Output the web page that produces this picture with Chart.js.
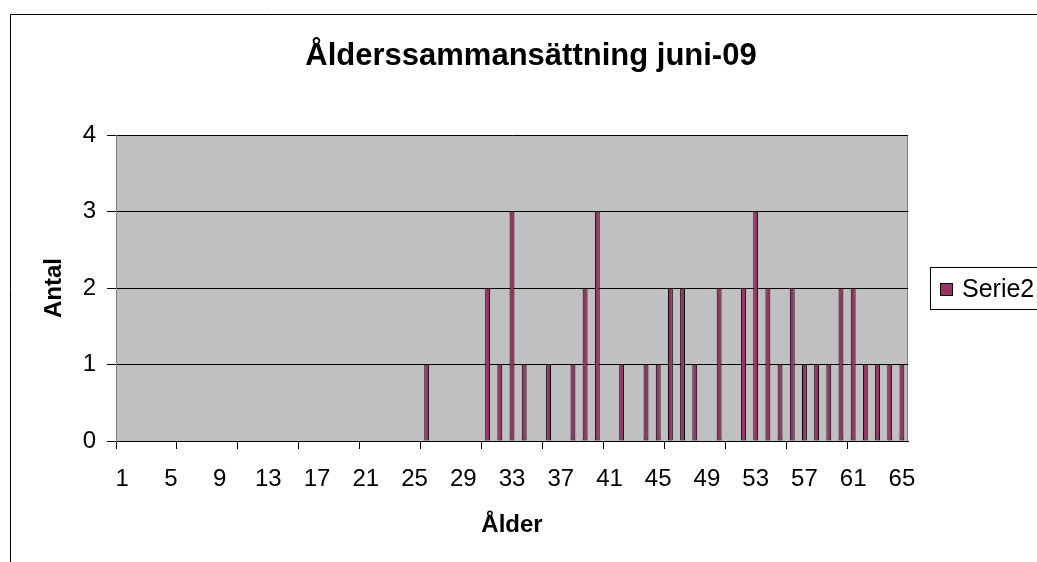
<!DOCTYPE html>
<html>
<head>
<meta charset="utf-8">
<script src="https://cdn.jsdelivr.net/npm/chart.js@4.4.0/dist/chart.umd.min.js"></script>
<style>
  html, body { margin: 0; padding: 0; background: #fff; }
  canvas { display: block; }
</style>
</head>
<body>
<canvas id="myChart" width="1037" height="562"></canvas>
<script>
// Ålder (kategorier)
var ages = ['1','2','3','4','5','6','7','8','9','10','11','12','13','14','15','16','17','18','19','20',
            '21','22','23','24','25','26','27','28','29','30','31','32','33','34','35','36','37','38','39','40',
            '41','42','43','44','45','46','47','48','49','50','51','52','53','54','55','56','57','58','59','60',
            '61','62','63','64','65'];
// Antal per ålder
var antal = [0,0,0,0,0,0,0,0,0,0,0,0,0,0,0,0,0,0,0,0,
             0,0,0,0,0,1,0,0,0,0,2,1,3,1,0,1,0,1,2,3,
             0,1,0,1,1,2,2,1,0,2,0,2,3,2,1,2,1,1,1,2,
             2,1,1,1,1];
// etiketter som visas på x-axeln
var xTickLabels = ['1','5','9','13','17','21','25','29','33','37','41','45','49','53','57','61','65'];
var yTicks = [0, 1, 2, 3, 4];

var chartTitle = 'Ålderssammansättning juni-09';
var fam = '"Liberation Sans", Arial, Helvetica, sans-serif';

var backgroundPlugin = {
    id: 'excelBg',
    beforeDraw: function(chart){
        var ctx = chart.ctx, a = chart.chartArea;
        ctx.save();
        ctx.fillStyle = '#fff';
        ctx.fillRect(0, 0, chart.width, chart.height);
        // yttre ram
        ctx.strokeStyle = '#000';
        ctx.lineWidth = 1;
        ctx.beginPath();
        ctx.moveTo(10.5, chart.height + 5);
        ctx.lineTo(10.5, 14.5);
        ctx.lineTo(chart.width + 5, 14.5);
        ctx.stroke();
        // diagramyta
        ctx.fillStyle = '#c0c0c0';
        ctx.fillRect(a.left, a.top, a.right - a.left, a.bottom - a.top);
        ctx.strokeStyle = '#808080';
        ctx.beginPath();
        ctx.moveTo(Math.round(a.right) - 0.5, a.top);
        ctx.lineTo(Math.round(a.right) - 0.5, a.bottom);
        ctx.stroke();
        ctx.restore();
    },
    afterDraw: function(chart){
        var ctx = chart.ctx;
        ctx.save();
        // rubrik
        ctx.fillStyle = '#000';
        ctx.font = 'bold 31px ' + fam;
        ctx.textAlign = 'center';
        ctx.textBaseline = 'alphabetic';
        ctx.fillText(chartTitle, 531, 65);
        // förklaring
        var ds = chart.data.datasets[0];
        ctx.fillStyle = '#fff';
        ctx.fillRect(930, 267, 120, 42);
        ctx.strokeStyle = '#000';
        ctx.lineWidth = 1;
        ctx.strokeRect(930.5, 267.5, 120, 42);
        ctx.fillStyle = ds.backgroundColor;
        ctx.fillRect(940, 283, 13, 13);
        ctx.strokeRect(940.5, 283.5, 12, 12);
        ctx.fillStyle = '#000';
        ctx.font = '25px ' + fam;
        ctx.textAlign = 'left';
        ctx.fillText(ds.label, 962, 297);
        ctx.restore();
    }
};

var ctx = document.getElementById('myChart').getContext('2d');
var myChart = new Chart(ctx, {
    type: 'bar',
    data: {
        labels: ages,
        datasets: [{
            label: 'Serie2',
            data: antal,
            backgroundColor: '#993366',
            borderColor: '#000000',
            borderWidth: 1,
            borderSkipped: false,
            barPercentage: 1,
            categoryPercentage: 0.4
        }]
    },
    options: {
        responsive: false,
        animation: false,
        devicePixelRatio: 1,
        layout: { padding: { left: 10, right: 129, top: 135, bottom: 0 } },
        plugins: {
            legend: { display: false },
            title: { display: false },
            tooltip: { enabled: false }
        },
        scales: {
            x: {
                type: 'category',
                offset: true,
                grid: {
                    offset: true,
                    drawOnChartArea: false,
                    drawTicks: true,
                    tickLength: 8,
                    color: '#000',
                    tickColor: function(c){ return c.index % 5 === 0 ? '#000' : 'rgba(0,0,0,0)'; }
                },
                border: { display: true, color: '#000', width: 1 },
                ticks: {
                    autoSkip: false,
                    maxRotation: 0,
                    minRotation: 0,
                    padding: 16,
                    color: '#000',
                    font: { family: fam, size: 24 },
                    callback: function(v, i){
                        var l = this.getLabelForValue(v);
                        return xTickLabels.indexOf(l) >= 0 ? l : '';
                    }
                },
                title: {
                    display: true,
                    text: 'Ålder',
                    color: '#000',
                    font: { family: fam, size: 24, weight: 'bold' },
                    padding: { top: 0, bottom: 22 }
                },
                afterFit: function(s){ s.height = 121; }
            },
            y: {
                min: 0,
                max: 4,
                afterBuildTicks: function(s){ s.ticks = yTicks.map(function(v){ return { value: v }; }); },
                grid: { color: '#000', tickLength: 9 },
                border: { display: true, color: '#808080', width: 1 },
                ticks: {
                    padding: 11,
                    color: '#000',
                    font: { family: fam, size: 24 }
                },
                title: {
                    display: true,
                    text: 'Antal',
                    color: '#000',
                    font: { family: fam, size: 24, weight: 'bold' },
                    padding: { top: 30, bottom: 0 }
                },
                afterFit: function(s){ s.width = 106; }
            }
        }
    },
    plugins: [backgroundPlugin]
});
</script>
</body>
</html>
